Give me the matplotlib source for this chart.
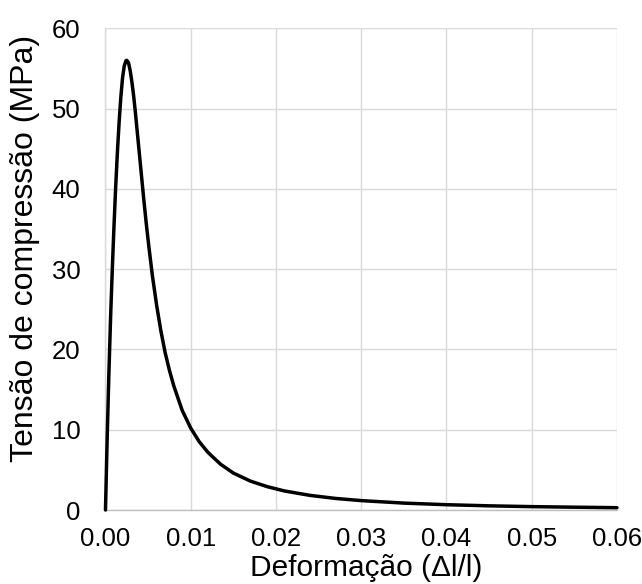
import matplotlib
matplotlib.use("Agg")
import matplotlib.pyplot as plt

plt.rcParams['font.family'] = ['Liberation Sans', 'DejaVu Sans']

# (strain, stress in MPa)
strain = [0.0, 0.0002, 0.0004, 0.0006, 0.0008, 0.0010, 0.0012, 0.0014, 0.0016,
          0.0018, 0.0020, 0.0022, 0.0024, 0.0025, 0.0027, 0.0029, 0.0031, 0.0033,
          0.0035, 0.0037, 0.0039, 0.0041, 0.0043, 0.0045, 0.0048, 0.0051, 0.0055,
          0.0060, 0.0065, 0.0070, 0.0075, 0.0080, 0.0090, 0.0100, 0.0110, 0.0120,
          0.0135, 0.0150, 0.0170, 0.0190, 0.0210, 0.0240, 0.0270, 0.0300, 0.0350,
          0.0400, 0.0450, 0.0500, 0.0550, 0.0600]
stress = [0.0, 9.0, 17.0, 24.0, 30.0, 35.4, 40.3, 44.6, 48.3,
          51.4, 53.8, 55.3, 55.95, 56.0, 55.7, 54.7, 53.3, 51.6,
          49.6, 47.4, 45.2, 43.0, 40.8, 38.6, 35.5, 32.7, 29.2,
          25.5, 22.3, 19.6, 17.4, 15.5, 12.4, 10.2, 8.5, 7.2,
          5.7, 4.6, 3.6, 2.9, 2.37, 1.82, 1.44, 1.17, 0.86,
          0.66, 0.52, 0.42, 0.35, 0.29]

xticks = [0.00, 0.01, 0.02, 0.03, 0.04, 0.05, 0.06]
xticklabels = ["0.00", "0.01", "0.02", "0.03", "0.04", "0.05", "0.06"]
yticks = [0, 10, 20, 30, 40, 50, 60]
xlabel = "Deformação (Δl/l)"
ylabel = "Tensão de compressão (MPa)"

fig = plt.figure(figsize=(6.42, 5.84), dpi=100)
ax = fig.add_axes([0.1643, 0.1267, 0.7967, 0.825])

ax.plot(strain, stress, color='black', linewidth=2.5, solid_joinstyle='round',
        solid_capstyle='round', zorder=3, clip_on=False)

ax.set_xlim(0, 0.06)
ax.set_ylim(0, 60)
ax.set_xticks(xticks)
ax.set_xticklabels(xticklabels)
ax.set_yticks(yticks)

ax.grid(True, color='#d9d9d9', linewidth=1.0)
ax.set_axisbelow(True)
for s in ['top', 'right']:
    ax.spines[s].set_visible(False)
ax.spines['left'].set_color('#d9d9d9')
ax.spines['left'].set_linewidth(1.0)
ax.spines['bottom'].set_color('#bfbfbf')
ax.spines['bottom'].set_linewidth(1.0)

ax.tick_params(axis='both', length=0, labelsize=18.5, colors='black')
ax.tick_params(axis='x', pad=12)
ax.tick_params(axis='y', pad=18)

ax.set_xlabel(xlabel, fontsize=21.5)
ax.set_ylabel(ylabel, fontsize=23)
ax.xaxis.set_label_coords(0.509, -0.092)
ax.yaxis.set_label_coords(-0.128, 0.5425)

fig.savefig("out.png", dpi=100)
